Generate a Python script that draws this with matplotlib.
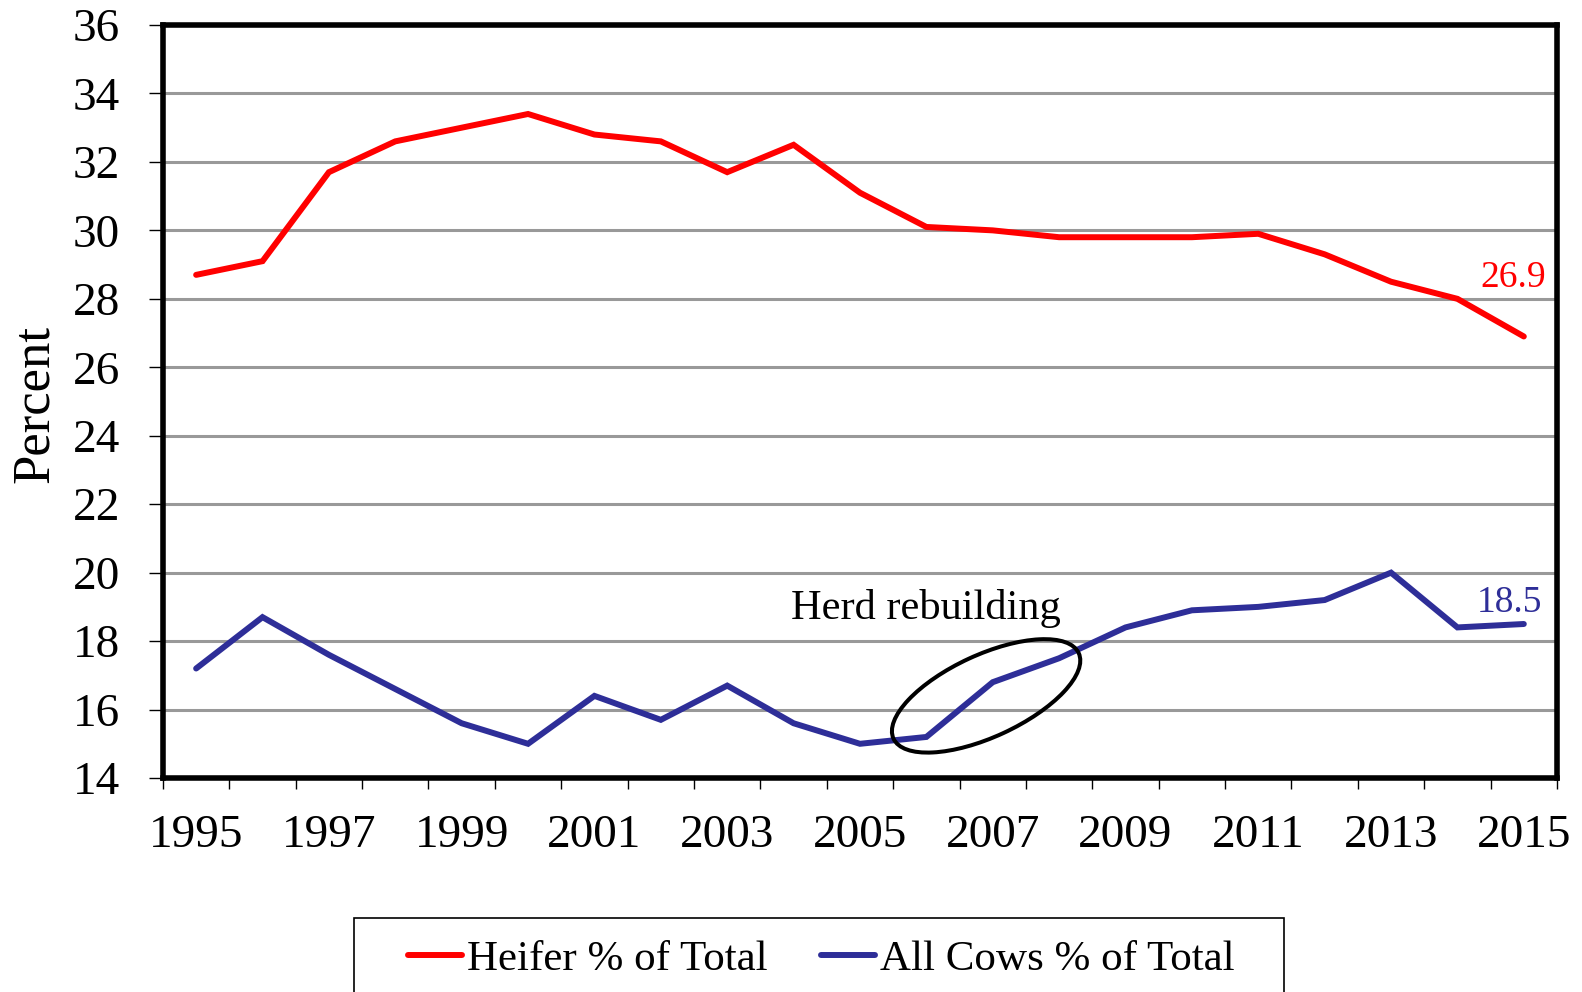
import matplotlib
matplotlib.use("Agg")
import matplotlib.pyplot as plt
from matplotlib.patches import Ellipse, Rectangle
from matplotlib.transforms import ScaledTranslation
import numpy as np

years = list(range(1995, 2016))
heifer_pct = [28.7, 29.1, 31.7, 32.6, 33.0, 33.4, 32.8, 32.6, 31.7, 32.5, 31.1,
              30.1, 30.0, 29.8, 29.8, 29.8, 29.9, 29.3, 28.5, 28.0, 26.9]
cows_pct = [17.2, 18.7, 17.6, 16.6, 15.6, 15.0, 16.4, 15.7, 16.7, 15.6, 15.0,
            15.2, 16.8, 17.5, 18.4, 18.9, 19.0, 19.2, 20.0, 18.4, 18.5]
series_labels = ["Heifer % of Total", "All Cows % of Total"]
y_ticks = list(range(14, 37, 2))
x_label_years = [str(y) for y in years[::2]]

RED = "#FF0000"
BLUE = "#2E2E98"
plt.rcParams["font.family"] = ["Liberation Serif", "DejaVu Serif"]

fig = plt.figure(figsize=(15.82, 9.92), dpi=100)
ax = fig.add_axes([0.1030, 0.2157, 0.8812, 0.7591])

x = np.arange(len(years))
l1, = ax.plot(x, heifer_pct, color=RED, lw=4.3, solid_joinstyle="miter",
              solid_capstyle="round", zorder=3)
l2, = ax.plot(x, cows_pct, color=BLUE, lw=4.3, solid_joinstyle="miter",
              solid_capstyle="round", zorder=3)

ax.set_xlim(-0.5, len(years) - 0.5)
ax.set_ylim(14, 36)
ax.set_yticks(y_ticks)
ax.set_yticklabels([str(v) for v in y_ticks])
ax.yaxis.grid(True, color="#999999", lw=2.2)
ax.set_axisbelow(True)

# category axis: ticks at boundaries, labels at every other category center
ax.set_xticks(np.arange(-0.5, len(years), 1.0))
ax.set_xticklabels([])
ax.set_xticks(x[::2], minor=True)
ax.set_xticklabels(x_label_years, minor=True)
ax.tick_params(axis="x", which="major", direction="out", length=8, width=1.0)
ax.tick_params(axis="x", which="minor", length=0, pad=26, labelsize=34)
ax.tick_params(axis="y", which="major", direction="out", length=10, width=1.0,
               pad=21, labelsize=34)

for s in ax.spines.values():
    s.set_linewidth(4)
    s.set_color("black")

fig.text(0.0222, 0.593, "Percent", rotation=90, ha="center", va="center", fontsize=38)

# end labels
ax.annotate(f"{heifer_pct[-1]:.1f}", xy=(x[-1], heifer_pct[-1]), xytext=(22, 59),
            textcoords="offset pixels", ha="right", va="center", color=RED, fontsize=27)
ax.annotate(f"{cows_pct[-1]:.1f}", xy=(x[-1], cows_pct[-1]), xytext=(18, 21),
            textcoords="offset pixels", ha="right", va="center", color=BLUE, fontsize=27)

# herd rebuilding annotation
ax.text(8.96, 18.65, "Herd rebuilding", ha="left", va="baseline", fontsize=30.5)
ell_tr = fig.dpi_scale_trans + ScaledTranslation(11.9, 16.4, ax.transData)
ax.add_patch(Ellipse((0, 0), 2.04, 0.82, angle=24.8, transform=ell_tr,
                     fill=False, edgecolor="black", lw=2.9, zorder=4, clip_on=False))

# legend
fig.add_artist(Rectangle((0.2238, -0.05), 0.5879, 0.1246, transform=fig.transFigure,
                         fill=False, edgecolor="black", lw=1.2))
fig.legend([l1, l2], series_labels, loc="center left", bbox_to_anchor=(0.258, 0.033),
           ncol=2, frameon=False, fontsize=31, handlelength=1.26, handletextpad=0.1,
           columnspacing=1.25, borderpad=0, borderaxespad=0)

fig.savefig("out.png", dpi=100)
